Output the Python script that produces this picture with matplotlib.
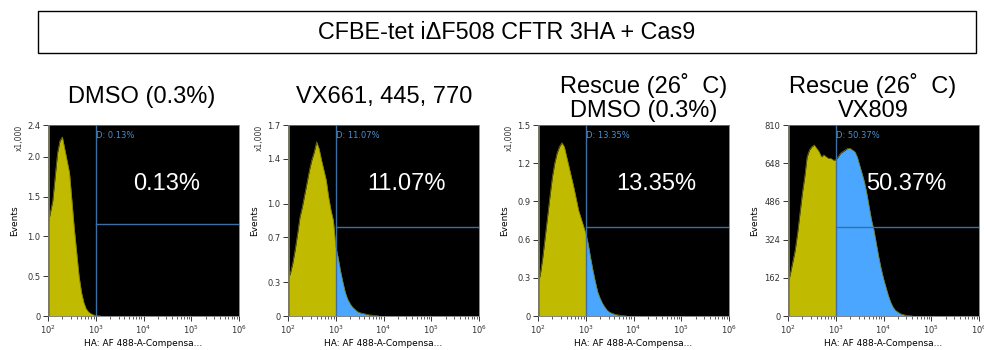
import numpy as np
import matplotlib
matplotlib.use('Agg')
import matplotlib.pyplot as plt
from matplotlib.patches import Rectangle
from matplotlib.ticker import LogLocator, NullFormatter

# histogram heights read every 0.05 decade, starting at 10^2
step = 0.05
dmso_counts = [1.15, 1.30, 1.45, 1.75, 2.05, 2.20, 2.25, 2.10, 1.95, 1.80,
               1.45, 1.10, 0.80, 0.50, 0.30, 0.17, 0.09, 0.05, 0.03, 0.015,
               0.006, 0.003, 0.0]
vx_combo_counts = [0.33, 0.38, 0.47, 0.59, 0.73, 0.88, 0.97, 1.08, 1.19, 1.30,
                   1.39, 1.46, 1.55, 1.49, 1.39, 1.30, 1.21, 1.06, 0.94, 0.85,
                   0.62, 0.52, 0.40, 0.30, 0.21, 0.15, 0.11, 0.08, 0.06, 0.04,
                   0.03, 0.025, 0.02, 0.015, 0.01, 0.008, 0.005, 0.003, 0.0]
rescue_dmso_counts = [0.25, 0.33, 0.46, 0.62, 0.78, 0.94, 1.09, 1.20, 1.28, 1.33,
                      1.36, 1.33, 1.25, 1.17, 1.09, 1.01, 0.92, 0.83, 0.77, 0.71,
                      0.65, 0.57, 0.46, 0.36, 0.27, 0.19, 0.14, 0.10, 0.07, 0.045,
                      0.03, 0.022, 0.015, 0.01, 0.007, 0.004, 0.002, 0.0]
rescue_vx809_counts = [137, 180, 229, 279, 350, 435, 520, 590, 675, 704,
                       718, 725, 711, 697, 675, 683, 675, 668, 668, 661,
                       661, 675, 690, 697, 704, 711, 711, 704, 697, 675,
                       640, 605, 569, 520, 463, 406, 364, 307, 251, 201,
                       159, 123, 88, 59, 38, 24, 17, 10, 7, 4,
                       2, 1, 0]

titles = [['DMSO (0.3%)'], ['VX661, 445, 770'],
          ['Rescue (26\u02da  C)', 'DMSO (0.3%)'], ['Rescue (26\u02da  C)', 'VX809']]
title_x = [142, 384, 644, 873]
percents = ['0.13%', '11.07%', '13.35%', '50.37%']
ymax = [2.4, 1.7, 1.5, 810]
yticks = [[0, 0.5, 1.0, 1.5, 2.0, 2.4],
          [0, 0.3, 0.7, 1.0, 1.4, 1.7],
          [0, 0.3, 0.6, 0.9, 1.2, 1.5],
          [0, 162, 324, 486, 648, 810]]
ytick_labels = [['0', '0.5', '1.0', '1.5', '2.0', '2.4'],
                ['0', '0.3', '0.7', '1.0', '1.4', '1.7'],
                ['0', '0.3', '0.6', '0.9', '1.2', '1.5'],
                ['0', '162', '324', '486', '648', '810']]
gate_level = [1.15, 0.79, 0.70, 377]
scaled = [True, True, True, False]
all_counts = [dmso_counts, vx_combo_counts, rescue_dmso_counts, rescue_vx809_counts]

yellow = '#c0bb00'
blue = '#4aa6ff'
gate = '#3a6ea5'

W, H = 984, 350
fig = plt.figure(figsize=(9.84, 3.5), dpi=100)

# header box
fig.patches.append(Rectangle((38 / W, 1 - 53 / H), 938 / W, 42 / H, transform=fig.transFigure,
                             fill=False, edgecolor='black', linewidth=1.0))
fig.text(507 / W, 1 - 39 / H, 'CFBE-tet i\u0394F508 CFTR 3HA + Cas9', ha='center',
         va='baseline', fontsize=16.8, family='Liberation Sans')

lefts = [48, 288, 538, 788]
for i in range(4):
    ax = fig.add_axes([lefts[i] / W, 34 / H, 191 / W, 191 / H])
    ax.set_facecolor('black')
    counts = np.array(all_counts[i])
    x = 10 ** (2 + step * np.arange(len(counts)))
    n = int(round(1 / step))
    ax.fill_between(x[:n + 1], counts[:n + 1], color=yellow, linewidth=0)
    ax.fill_between(x[n:], counts[n:], color=blue, linewidth=0)
    ax.plot(x, counts, color='#7d7a00', linewidth=0.5)
    ax.axvline(100, color='#8a8600', linewidth=2)
    ax.axvline(1000, color=gate, linewidth=1)
    ax.plot([1000, 1e6], [gate_level[i], gate_level[i]], color=gate, linewidth=1)
    ax.set_xscale('log')
    ax.set_xlim(1e2, 1e6)
    ax.set_ylim(0, ymax[i])
    ax.xaxis.set_major_locator(LogLocator(base=10, numticks=10))
    ax.xaxis.set_minor_locator(LogLocator(base=10, subs=np.arange(2, 10), numticks=50))
    ax.xaxis.set_minor_formatter(NullFormatter())
    ax.set_yticks(yticks[i])
    ax.set_yticklabels(ytick_labels[i])
    ax.tick_params(labelsize=6, colors='#333333', length=3.5, width=0.7, pad=2)
    ax.tick_params(which='minor', length=2.5, width=0.6, colors='#444444')
    for s in ax.spines.values():
        s.set_color('#777777')
        s.set_linewidth(0.6)
    ax.set_xlabel('HA: AF 488-A-Compensa...', fontsize=6.5, labelpad=2)
    ax.set_ylabel('Events', fontsize=6.5, labelpad=6 if i < 3 else 4)
    if scaled[i]:
        ax.text(-0.15, 1.0, 'x1,000', transform=ax.transAxes, rotation=90,
                ha='center', va='top', fontsize=5.5, color='#333333')
    ax.text(1030, ymax[i] * 0.97, 'D: ' + percents[i], color='#4a8fd0', fontsize=6,
            ha='left', va='top')
    ax.text(10 ** 4.48, ymax[i] * 0.69, percents[i], color='white', fontsize=17,
            ha='center', va='center', family='Liberation Sans')
    lines = titles[i]
    if len(lines) == 1:
        fig.text(title_x[i] / W, 1 - 103 / H, lines[0], ha='center', va='baseline',
                 fontsize=17, family='Liberation Sans')
    else:
        fig.text(title_x[i] / W, 1 - 93 / H, lines[0], ha='center', va='baseline',
                 fontsize=17, family='Liberation Sans')
        fig.text(title_x[i] / W, 1 - 117 / H, lines[1], ha='center', va='baseline',
                 fontsize=17, family='Liberation Sans')

fig.savefig('out.png', dpi=100)
